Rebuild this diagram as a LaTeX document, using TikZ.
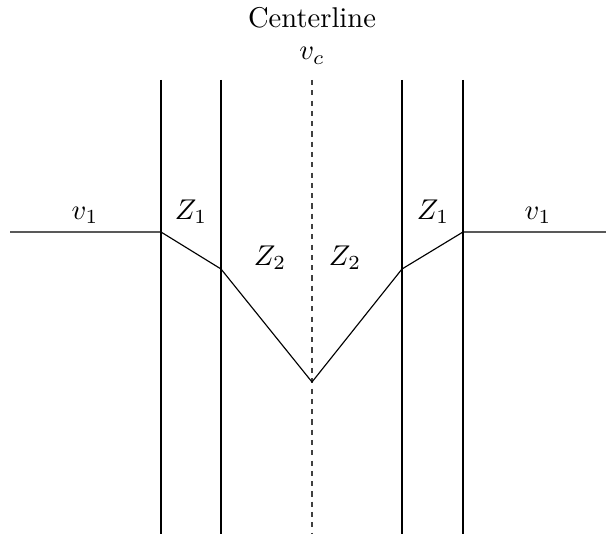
\documentclass[tikz,border=0pt]{standalone}
\begin{document}
\begin{tikzpicture}[x=0.35pt,y=-0.35pt,
  wall/.style={draw=black,line width=0.4pt},
  lbl/.style={inner sep=0pt,anchor=base}]
\useasboundingbox (0,0) rectangle (606,537);
\coordinate (l1t) at (161,80); \coordinate (l1b) at (161,534);
\coordinate (l2t) at (221,80); \coordinate (l2b) at (221,534);
\coordinate (ct) at (312,80); \coordinate (cb) at (312,534);
\coordinate (r2t) at (402,80); \coordinate (r2b) at (402,534);
\coordinate (r1t) at (463,80); \coordinate (r1b) at (463,534);
\draw[wall] (l1t) -- (l1b);
\draw[wall] (l2t) -- (l2b);
\draw[wall] (r2t) -- (r2b);
\draw[wall] (r1t) -- (r1b);
\draw[wall,dash pattern=on 1.8pt off 1.8pt,draw=black!75] (ct) -- (cb);
\coordinate (le) at (10,232);
\coordinate (re) at (606,232);
\coordinate (p1) at (161,232);
\coordinate (p2) at (221,269);
\coordinate (p3) at (312,382);
\coordinate (p4) at (402,269);
\coordinate (p5) at (463,232);
\draw[wall] (le) -- (p1) -- (p2) -- (p3) -- (p4) -- (p5) -- (re);
\node[lbl] (cl) at (312,28) {Centerline};
\node[lbl] (vc) at (312,60) {$v_c$};
\node[lbl] (v1l) at (85,219) {$v_1$};
\node[lbl] (z1l) at (191,219) {$Z_1$};
\node[lbl] (z2l) at (270,265) {$Z_2$};
\node[lbl] (z2r) at (345,265) {$Z_2$};
\node[lbl] (z1r) at (433,219) {$Z_1$};
\node[lbl] (v1r) at (538,219) {$v_1$};
\end{tikzpicture}
\end{document}
